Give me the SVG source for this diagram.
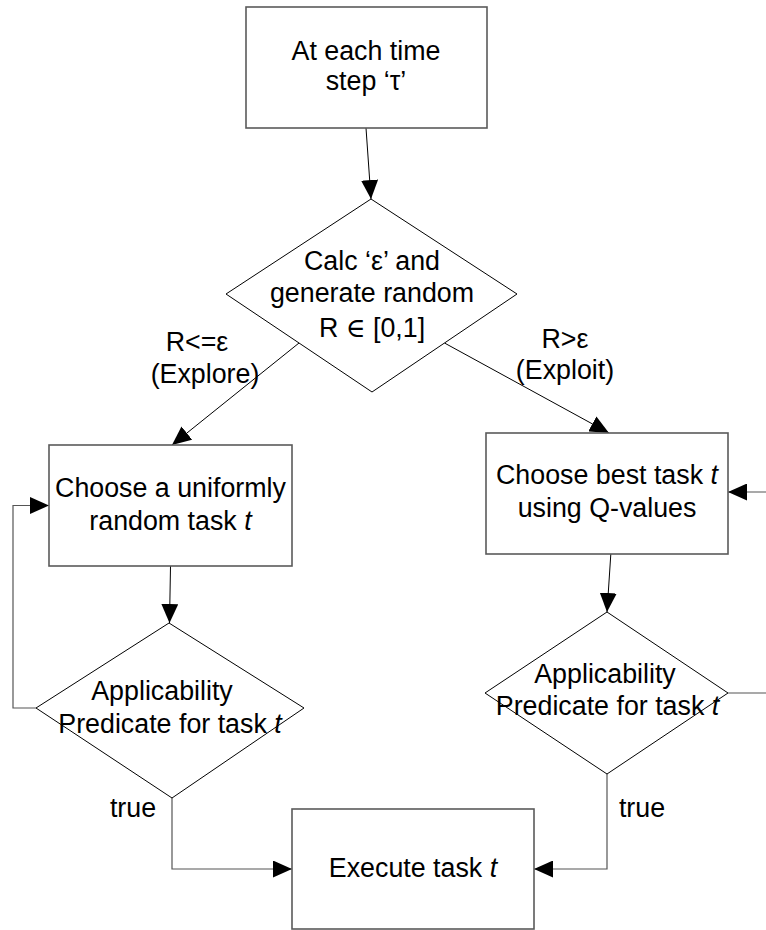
<svg xmlns="http://www.w3.org/2000/svg" width="766" height="930" viewBox="0 0 766 930">
  <style>
    .box { fill: #ffffff; stroke: #5a5a5a; stroke-width: 1.6; }
    .dia { fill: #ffffff; stroke: #000000; stroke-width: 1; }
    .lbl { font-family: "Liberation Sans", Arial, sans-serif; font-size: 26.8px; fill: #000000; text-anchor: middle; }
    .conn { fill: none; stroke: #000000; stroke-width: 1; }
    .loop { fill: none; stroke: #555555; stroke-width: 1.2; }
    .it { font-style: italic; }
    .sym { font-family: "Liberation Serif", "DejaVu Serif", serif; }
  </style>
  <defs>
    <marker id="arrow" markerUnits="userSpaceOnUse" markerWidth="19" markerHeight="17" refX="19" refY="8.5" orient="auto">
      <path d="M0,0 L19,8.5 L0,17 Z" fill="#000000"/>
    </marker>
  </defs>

  <!-- connectors (drawn first so filled shapes sit on top of the line ends) -->
  <g id="connectors">
    <line class="conn" x1="366" y1="128" x2="371" y2="199" marker-end="url(#arrow)"/>
    <line class="conn" x1="299" y1="343" x2="172" y2="445" marker-end="url(#arrow)"/>
    <line class="conn" x1="444.5" y1="343" x2="609" y2="433" marker-end="url(#arrow)"/>
    <line class="conn" x1="170.5" y1="566" x2="169.5" y2="623" marker-end="url(#arrow)"/>
    <line class="conn" x1="612" y1="536" x2="607" y2="612" marker-end="url(#arrow)"/>
    <polyline class="loop" points="36,708 13,708 13,505.5 49,505.5" marker-end="url(#arrow)"/>
    <polyline class="loop" points="172,798 172,869 292,869" marker-end="url(#arrow)"/>
    <polyline class="loop" points="607,774 607,869 534,869" marker-end="url(#arrow)"/>
    <line class="loop" x1="728" y1="693" x2="766" y2="693"/>
    <line class="loop" x1="766" y1="492" x2="728" y2="492" marker-end="url(#arrow)"/>
  </g>

  <g id="start">
    <rect class="box" x="246" y="7" width="241" height="121"/>
    <text class="lbl" x="366" y="60">At each time</text>
    <text class="lbl" x="366" y="90">step ‘τ’</text>
  </g>

  <g id="decide">
    <polygon class="dia" points="371,199 517,294 372,392 226,294"/>
  </g>

  <g id="explore">
    <rect class="box" x="49" y="445" width="243" height="121"/>
  </g>

  <g id="exploit">
    <rect class="box" x="486" y="433" width="242" height="121"/>
  </g>

  <g id="check-left">
    <polygon class="dia" points="169,623 304,708 172,798 36,708"/>
  </g>

  <g id="check-right">
    <polygon class="dia" points="607,612 728,693 607,774 485,693"/>
  </g>

  <g id="execute">
    <rect class="box" x="292" y="809" width="242" height="120"/>
    <text class="lbl" x="413" y="877">Execute task <tspan class="it">t</tspan></text>
  </g>

  <!-- texts of the nodes drawn above every outline -->
  <g id="node-texts">
    <text class="lbl" x="372" y="270">Calc ‘ε’ and</text>
    <text class="lbl" x="372" y="302">generate random</text>
    <text class="lbl" x="372" y="337">R <tspan class="sym">∈</tspan> [0,1]</text>

    <text class="lbl" x="170.5" y="497">Choose a uniformly</text>
    <text class="lbl" x="170.5" y="530">random task <tspan class="it">t</tspan></text>

    <text class="lbl" x="607" y="484">Choose best task <tspan class="it">t</tspan></text>
    <text class="lbl" x="607" y="517">using Q-values</text>

    <text class="lbl" x="162" y="700">Applicability</text>
    <text class="lbl" x="170" y="733">Predicate for task <tspan class="it">t</tspan></text>

    <text class="lbl" x="605" y="683">Applicability</text>
    <text class="lbl" x="607.5" y="715">Predicate for task <tspan class="it">t</tspan></text>
  </g>

  <g id="edge-labels">
    <text class="lbl" x="197" y="351">R&lt;=ε</text>
    <text class="lbl" x="205" y="383">(Explore)</text>
    <text class="lbl" x="565" y="348">R&gt;ε</text>
    <text class="lbl" x="565" y="379">(Exploit)</text>
    <text class="lbl" x="133" y="817">true</text>
    <text class="lbl" x="642" y="817">true</text>
  </g>
</svg>
